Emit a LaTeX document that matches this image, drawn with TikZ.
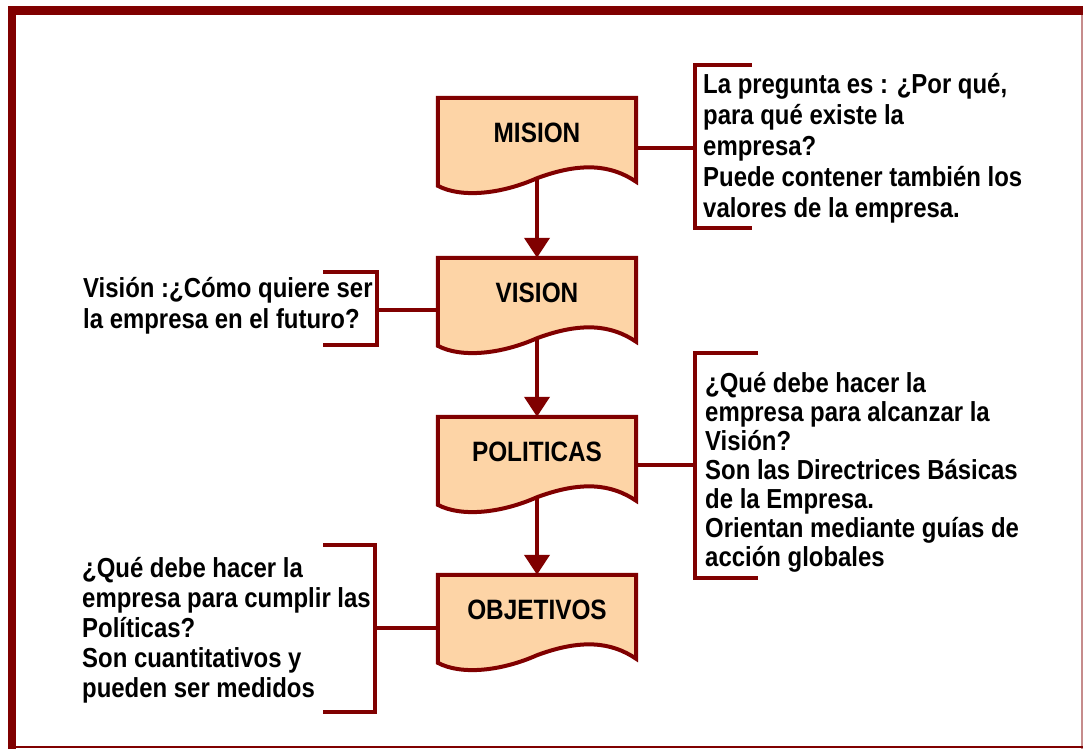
\documentclass[tikz,border=0pt]{standalone}
\usepackage{fontspec}
\setmainfont{Liberation Sans}[FakeStretch=0.87]
\usetikzlibrary{arrows.meta,calc}
\definecolor{myred}{HTML}{800000}
\definecolor{peach}{HTML}{FDD4A6}
\pgfdeclarelayer{bg}
\pgfsetlayers{bg,main}
\newcommand{\docshape}[1]{%
  \path[fill=peach,draw=myred,line width=4pt,line join=miter]
    (#1.north west) -- (#1.north east) -- ($(#1.north east)+(0,84)$)
    .. controls ($(#1.north east)+(-25,67)$) and ($(#1.north east)+(-55,64)$) .. (#1.south)
    .. controls ($(#1.south)+(-36,16)$) and ($(#1.south)+(-76,20)$) .. ($(#1.north west)+(0,88)$)
    -- cycle;}
\begin{document}
\begin{tikzpicture}[x=1pt,y=-1pt,
  docbox/.style={minimum width=198pt,minimum height=80pt,inner sep=0pt,draw=none},
  boxlabel/.style={font=\fontsize{28}{30}\selectfont\bfseries,inner sep=0pt,yshift=5pt},
  note/.style={anchor=base west,align=left,inner sep=0pt},
  conn/.style={draw=myred,line width=4pt},
  bracket/.style={draw=myred,line width=4pt,line join=miter},
  arr/.style={conn,-{Triangle[width=25pt,length=20pt]}}]
\useasboundingbox (0,0) rectangle (1083,749);
% frame
\fill[myred] (8,6) rectangle (1083,15);
\fill[myred] (8,6) rectangle (16,749);
\draw[myred!45,line width=2pt] (1082,15) -- (1082,749);
\draw[myred,line width=2pt] (16,747) -- (1083,747);

% boxes
\node[docbox,label={[boxlabel]center:MISION}] (mision) at (537,138) {};
\node[docbox,label={[boxlabel]center:VISION}] (vision) at (537,298) {};
\node[docbox,label={[boxlabel]center:POLITICAS}] (politicas) at (537,457) {};
\node[docbox,label={[boxlabel]center:OBJETIVOS}] (objetivos) at (537,615) {};
\begin{pgfonlayer}{bg}
\fill[white] (0,0) rectangle (1083,749);
\docshape{mision}
\docshape{vision}
\docshape{politicas}
\docshape{objetivos}
\end{pgfonlayer}

% arrows
\draw[arr] (mision.south) -- (vision.north);
\draw[arr] (vision.south) -- (politicas.north);
\draw[arr] (politicas.south) -- (objetivos.north);

% notes (anchor = baseline of the last line)
\node[note,font=\fontsize{27.5}{31}\selectfont\bfseries] (n1) at (703,217)
  {La pregunta es : ¿Por qué,\\para qué existe la\\empresa?\\Puede contener también los\\valores de la empresa.};
\node[note,font=\fontsize{27.5}{31}\selectfont\bfseries] (n2) at (83,328)
  {Visión :¿Cómo quiere ser\\la empresa en el futuro?};
\node[note,font=\fontsize{27.5}{29}\selectfont\bfseries] (n3) at (705,566)
  {¿Qué debe hacer la\\empresa para alcanzar la\\Visión?\\Son las Directrices Básicas\\de la Empresa.\\Orientan mediante guías de\\acción globales};
\node[note,font=\fontsize{27.5}{30}\selectfont\bfseries] (n4) at (82,697)
  {¿Qué debe hacer la\\empresa para cumplir las\\Políticas?\\Son cuantitativos y\\pueden ser medidos};

% brackets
\coordinate (b1) at (695,148);
\coordinate (b2) at (377,310);
\coordinate (b3) at (695,465);
\coordinate (b4) at (375,628);
\draw[bracket] (752,65) -- (695,65) -- (695,228) -- (752,228);
\draw[bracket] (323,272) -- (377,272) -- (377,345) -- (323,345);
\draw[bracket] (758,353) -- (695,353) -- (695,578) -- (758,578);
\draw[bracket] (323,545) -- (375,545) -- (375,712) -- (323,712);
\draw[conn] (mision.east |- b1) -- (b1);
\draw[conn] (vision.west |- b2) -- (b2);
\draw[conn] (politicas.east |- b3) -- (b3);
\draw[conn] (objetivos.west |- b4) -- (b4);
\end{tikzpicture}
\end{document}
